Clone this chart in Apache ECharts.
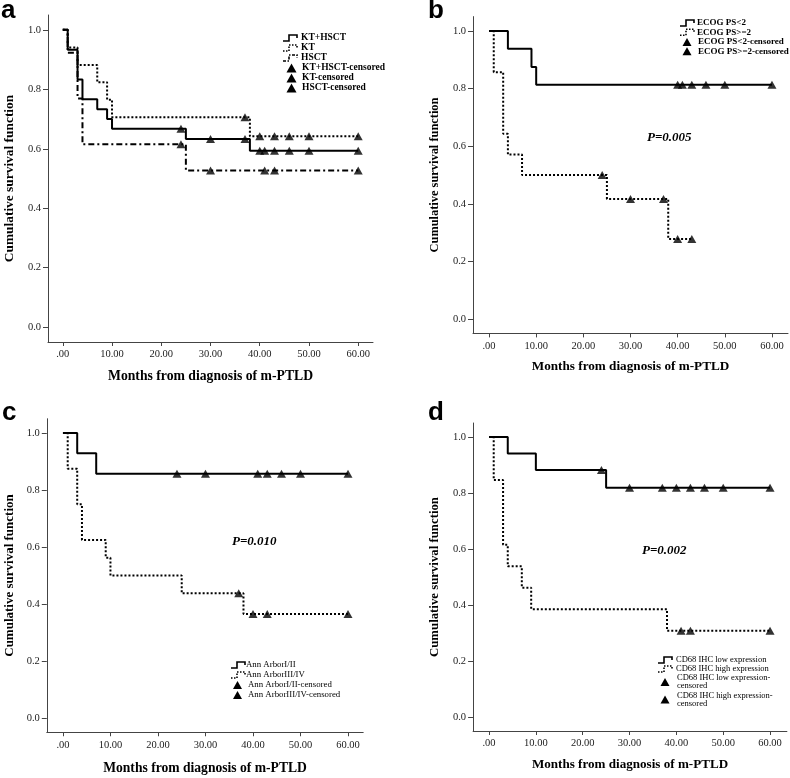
<!DOCTYPE html>
<html><head><meta charset="utf-8">
<script src="https://cdn.jsdelivr.net/npm/echarts@6/dist/echarts.min.js"></script>
<style>html,body{margin:0;padding:0;background:#fff}#main{width:790px;height:778px}</style>
</head><body><div id="main"></div>
<script>
// ---------------- data ----------------
const xTickValues = [0, 10, 20, 30, 40, 50, 60];
const yTickValues = [0, 0.2, 0.4, 0.6, 0.8, 1.0];

// panel a
const aKTHSCT_t = [0, 1, 3, 4, 7, 9, 10, 25, 38, 60];
const aKTHSCT_s = [1, 0.933, 0.833, 0.767, 0.733, 0.700, 0.667, 0.633, 0.593, 0.593];
const aKTHSCT_cens_t = [24, 30, 37, 40, 41, 43, 46, 50, 60];
const aKTHSCT_cens_s = [0.667, 0.633, 0.633, 0.593, 0.593, 0.593, 0.593, 0.593, 0.593];
const aKT_t = [0, 1, 3, 7, 9, 10, 38, 60];
const aKT_s = [1, 0.941, 0.882, 0.824, 0.765, 0.706, 0.642, 0.642];
const aKT_cens_t = [37, 40, 43, 46, 50, 60];
const aKT_cens_s = [0.706, 0.642, 0.642, 0.642, 0.642, 0.642];
const aHSCT_t = [0, 1, 3, 4, 25, 60];
const aHSCT_s = [1, 0.923, 0.769, 0.615, 0.527, 0.527];
const aHSCT_cens_t = [24, 30, 41, 43, 60];
const aHSCT_cens_s = [0.615, 0.527, 0.527, 0.527, 0.527];

// panel b
const bLow_t = [0, 4, 9, 10, 60];
const bLow_s = [1, 0.938, 0.875, 0.813, 0.813];
const bLow_cens_t = [40, 41, 43, 46, 50, 60];
const bLow_cens_s = [0.813, 0.813, 0.813, 0.813, 0.813, 0.813];
const bHigh_t = [0, 1, 3, 4, 7, 25, 38, 43];
const bHigh_s = [1, 0.857, 0.643, 0.571, 0.5, 0.417, 0.278, 0.278];
const bHigh_cens_t = [24, 30, 37, 40, 43];
const bHigh_cens_s = [0.5, 0.417, 0.417, 0.278, 0.278];

// panel c
const cLow_t = [0, 3, 7, 60];
const cLow_s = [1, 0.929, 0.857, 0.857];
const cLow_cens_t = [24, 30, 41, 43, 46, 50, 60];
const cLow_cens_s = [0.857, 0.857, 0.857, 0.857, 0.857, 0.857, 0.857];
const cHigh_t = [0, 1, 3, 4, 9, 10, 25, 38, 60];
const cHigh_s = [1, 0.875, 0.75, 0.625, 0.5625, 0.5, 0.4375, 0.365, 0.365];
const cHigh_cens_t = [37, 40, 43, 60];
const cHigh_cens_s = [0.4375, 0.365, 0.365, 0.365];

// panel d
const dLow_t = [0, 4, 10, 25, 60];
const dLow_s = [1, 0.941, 0.882, 0.819, 0.819];
const dLow_cens_t = [24, 30, 37, 40, 43, 46, 50, 60];
const dLow_cens_s = [0.882, 0.819, 0.819, 0.819, 0.819, 0.819, 0.819, 0.819];
const dHigh_t = [0, 1, 3, 4, 7, 9, 38, 60];
const dHigh_s = [1, 0.846, 0.615, 0.538, 0.462, 0.385, 0.308, 0.308];
const dHigh_cens_t = [41, 43, 60];
const dHigh_cens_s = [0.308, 0.308, 0.308];

// legend labels
const aNames = ['KT+HSCT', 'KT', 'HSCT', 'KT+HSCT-censored', 'KT-censored', 'HSCT-censored'];
const bNames = ['ECOG PS<2', 'ECOG PS>=2', 'ECOG PS<2-censored', 'ECOG PS>=2-censored'];
const cNames = ['Ann ArborI/II', 'Ann ArborIII/IV', 'Ann ArborI/II-censored', 'Ann ArborIII/IV-censored'];
const dNames = ['CD68 IHC low expression', 'CD68 IHC high expression', 'CD68 IHC low expression-\ncensored', 'CD68 IHC high expression-\ncensored'];

const pValues = ['P=0.005', 'P=0.010', 'P=0.002'];
const panelLetters = ['a', 'b', 'c', 'd'];
const xTitle = 'Months from diagnosis of m-PTLD';
const yTitle = 'Cumulative survival function';

// ---------------- layout / style ----------------
const SERIF = '"Liberation Serif", "Times New Roman", serif';
const SANS = '"Liberation Sans", Arial, sans-serif';
const grids = [
  {left: 48, top: 15, width: 325, height: 327},
  {left: 473, top: 16.6, width: 315, height: 316.8},
  {left: 46.8, top: 418.75, width: 316.4, height: 313.5},
  {left: 473.1, top: 423, width: 313.8, height: 308}
];
const xRanges = [[-3, 63], [-3.4, 63.4], [-3.4, 63.2], [-3.4, 63.6]];
const yNameGap = [32, 32, 31, 32];
const yNameSize = [13.4, 12.4, 13, 12.8];
const xNameGap = [27, 27, 29, 27.5];
const xNameSize = [13.7, 13.2, 13.6, 13.1];

const SOLID = 'solid';
const DOTTED = [2, 2];
const DASHDOT = [6, 3, 2, 3];

function pairs(t, s) { return t.map((v, k) => [v, s[k]]); }
function stepSeries(name, t, s, i, dash) {
  return {
    type: 'line', name: name, xAxisIndex: i, yAxisIndex: i, step: 'end',
    data: pairs(t, s), symbol: 'none', showSymbol: false, silent: true,
    lineStyle: {color: '#000', width: 2, type: dash}, itemStyle: {color: '#000'}
  };
}
function censSeries(name, t, s, i) {
  return {
    type: 'scatter', name: name, xAxisIndex: i, yAxisIndex: i,
    data: pairs(t, s), symbol: 'triangle', symbolSize: [9, 8], silent: true,
    itemStyle: {color: '#000'}, z: 3
  };
}

const xAxes = grids.map((g, i) => ({
  type: 'value', gridIndex: i, min: xRanges[i][0], max: xRanges[i][1],
  splitLine: {show: false},
  axisLine: {show: true, onZero: false, lineStyle: {color: '#444', width: 1}},
  axisTick: {show: true, length: 4, customValues: xTickValues, lineStyle: {color: '#444'}},
  axisLabel: {customValues: xTickValues, margin: 7, color: '#222', fontFamily: SERIF, fontSize: 10.5,
    formatter: v => (v === 0 ? '.00' : v.toFixed(2))},
  name: xTitle, nameLocation: 'middle', nameGap: xNameGap[i],
  nameTextStyle: {fontFamily: SERIF, fontWeight: 'bold', fontSize: xNameSize[i], color: '#000'}
}));
const yAxes = grids.map((g, i) => ({
  type: 'value', gridIndex: i, min: -0.05, max: 1.05,
  splitLine: {show: false},
  axisLine: {show: true, onZero: false, lineStyle: {color: '#444', width: 1}},
  axisTick: {show: true, length: 5, customValues: yTickValues, lineStyle: {color: '#444'}},
  axisLabel: {customValues: yTickValues, margin: 7, color: '#222', fontFamily: SERIF, fontSize: 10.5,
    formatter: v => v.toFixed(1)},
  name: yTitle, nameLocation: 'middle', nameRotate: 90, nameGap: yNameGap[i],
  nameTextStyle: {fontFamily: SERIF, fontWeight: 'bold', fontSize: yNameSize[i], color: '#000'}
}));

const series = [
  stepSeries(aNames[0], aKTHSCT_t, aKTHSCT_s, 0, SOLID),
  stepSeries(aNames[1], aKT_t, aKT_s, 0, DOTTED),
  stepSeries(aNames[2], aHSCT_t, aHSCT_s, 0, DASHDOT),
  censSeries(aNames[3], aKTHSCT_cens_t, aKTHSCT_cens_s, 0),
  censSeries(aNames[4], aKT_cens_t, aKT_cens_s, 0),
  censSeries(aNames[5], aHSCT_cens_t, aHSCT_cens_s, 0),

  stepSeries(bNames[0], bLow_t, bLow_s, 1, SOLID),
  stepSeries(bNames[1], bHigh_t, bHigh_s, 1, DOTTED),
  censSeries(bNames[2], bLow_cens_t, bLow_cens_s, 1),
  censSeries(bNames[3], bHigh_cens_t, bHigh_cens_s, 1),

  stepSeries(cNames[0], cLow_t, cLow_s, 2, SOLID),
  stepSeries(cNames[1], cHigh_t, cHigh_s, 2, DOTTED),
  censSeries(cNames[2], cLow_cens_t, cLow_cens_s, 2),
  censSeries(cNames[3], cHigh_cens_t, cHigh_cens_s, 2),

  stepSeries(dNames[0], dLow_t, dLow_s, 3, SOLID),
  stepSeries(dNames[1], dHigh_t, dHigh_s, 3, DOTTED),
  censSeries(dNames[2], dLow_cens_t, dLow_cens_s, 3),
  censSeries(dNames[3], dHigh_cens_t, dHigh_cens_s, 3)
];

// ---- legends (drawn as graphic elements, SPSS style step icons) ----
const legendSpecs = [
  {names: aNames, kinds: [SOLID, DOTTED, DASHDOT, 'tri', 'tri', 'tri'], rows: [38, 48, 58, 68, 78, 88],
   x0: 283, textX: 301, triX: 291.5, triTextX: 302, tri: [10, 9], font: 'bold 9.5px ' + SERIF, lh: 9},
  {names: bNames, kinds: [SOLID, DOTTED, 'tri', 'tri'], rows: [23, 32.3, 42, 51.2],
   x0: 680, textX: 697, triX: 687, triTextX: 698, tri: [9, 8], font: 'bold 9px ' + SERIF, lh: 8},
  {names: cNames, kinds: [SOLID, DOTTED, 'tri', 'tri'], rows: [665, 675, 685, 695],
   x0: 231, textX: 246, triX: 237.5, triTextX: 248, tri: [9, 8], font: '8.8px ' + SERIF, lh: 8},
  {names: dNames, kinds: [SOLID, DOTTED, 'tri', 'tri'], rows: [660, 669, 682, 699.5],
   x0: 658, textX: 676, triX: 665, triTextX: 677, tri: [9, 8], font: '8.5px ' + SERIF, lh: 7.6}
];
const graphics = [];
legendSpecs.forEach(L => {
  L.names.forEach((nm, k) => {
    const y = L.rows[k];
    const kind = L.kinds[k];
    if (kind === 'tri') {
      const w = L.tri[0], h = L.tri[1], cx = L.triX;
      graphics.push({type: 'polygon', shape: {points: [[cx, y - h / 2], [cx + w / 2, y + h / 2], [cx - w / 2, y + h / 2]]},
        style: {fill: '#000'}});
      graphics.push({type: 'text', x: L.triTextX, y: y, style: {text: nm, font: L.font, lineHeight: L.lh, fill: '#000', verticalAlign: 'middle'}});
    } else {
      const x = L.x0;
      const dash = kind === SOLID ? null : (kind === DOTTED ? [1.5, 1.5] : [3, 1.5, 1.5, 1.5]);
      graphics.push({type: 'polyline',
        shape: {points: [[x, y + 3], [x + 6, y + 3], [x + 6, y - 3], [x + 14, y - 3], [x + 14, y]]},
        style: {stroke: '#000', lineWidth: 1.6, fill: null, lineDash: dash}});
      graphics.push({type: 'text', x: L.textX, y: y, style: {text: nm, font: L.font, lineHeight: L.lh, fill: '#000', verticalAlign: 'middle'}});
    }
  });
});

const letterPos = [[1, 11], [428, 11], [2, 413], [428, 413]];
const pPos = [[647, 131], [232, 535], [642, 544]];
panelLetters.forEach((L, i) => graphics.push({type: 'text', x: letterPos[i][0], y: letterPos[i][1],
  style: {text: L, font: 'bold 26px ' + SANS, fill: '#000', verticalAlign: 'middle'}}));
pValues.forEach((p, i) => graphics.push({type: 'text', x: pPos[i][0], y: pPos[i][1],
  style: {text: p, font: 'italic bold 13px ' + SERIF, fill: '#000'}}));

const chart = echarts.init(document.getElementById('main'), null, {renderer: 'canvas'});
chart.setOption({
  animation: false,
  backgroundColor: '#fff',
  grid: grids,
  xAxis: xAxes,
  yAxis: yAxes,
  series: series,
  graphic: graphics
});
</script>
</body></html>
